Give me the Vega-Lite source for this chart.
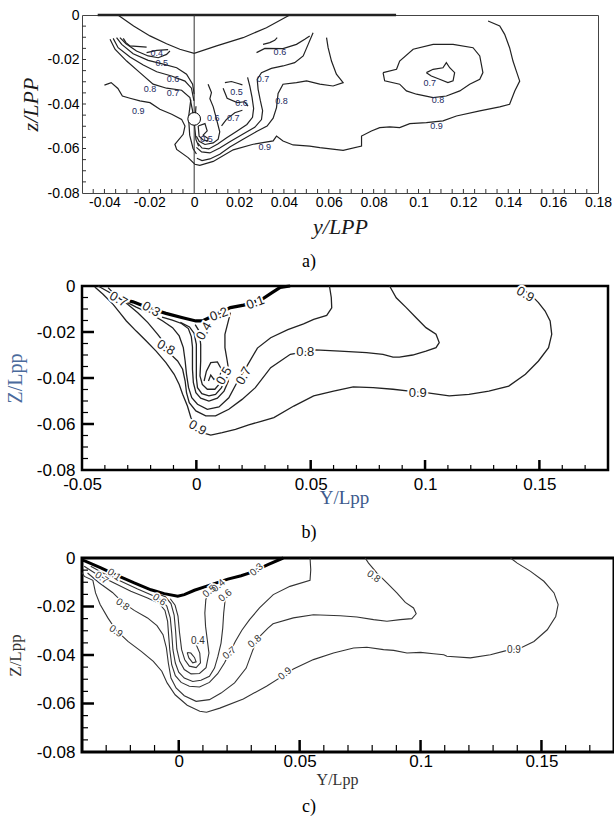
{
"$schema":"https://vega.github.io/schema/vega-lite/v6.json",
"background":"white",
"padding":{"top":7,"left":4,"right":0,"bottom":0},
"spacing":3,
"config":{
 "axis":{"grid":false,"domain":false,"ticks":false,"tickSize":0,"labelFont":"Liberation Sans","labelColor":"black","labelOverlap":false,"labelFlush":false,"titleFontWeight":"normal","titleFont":"Liberation Serif"},
 "title":{"font":"Liberation Serif","fontWeight":"normal","fontSize":18,"color":"black","orient":"bottom","anchor":"middle","frame":"group"}
},
"datasets":{
"linesA":[
{"c":"h","y":-0.034,"z":0},{"c":"h","y":-0.027,"z":-0.0049},{"c":"h","y":-0.0197,"z":-0.0094},{"c":"h","y":-0.0123,"z":-0.0129},{"c":"h","y":-0.0064,"z":-0.0154},{"c":"h","y":0,"z":-0.0172},{"c":"h","y":0.01,"z":-0.0139},{"c":"h","y":0.0218,"z":-0.0102},{"c":"h","y":0.0322,"z":-0.0057},{"c":"h","y":0.0426,"z":0},
{"c":"a9","y":-0.04,"z":-0.0315},{"c":"a9","y":-0.037,"z":-0.0304},{"c":"a9","y":-0.034,"z":-0.033},{"c":"a9","y":-0.032,"z":-0.0364},{"c":"a9","y":-0.0286,"z":-0.0374},{"c":"a9","y":-0.0242,"z":-0.0386},{"c":"a9","y":-0.0197,"z":-0.0394},{"c":"a9","y":-0.0153,"z":-0.0424},{"c":"a9","y":-0.01,"z":-0.0446},{"c":"a9","y":-0.0056,"z":-0.0469},{"c":"a9","y":-0.0041,"z":-0.0499},{"c":"a9","y":-0.0049,"z":-0.0536},{"c":"a9","y":-0.0086,"z":-0.0581},{"c":"a9","y":-0.0078,"z":-0.0604},{"c":"a9","y":-0.0027,"z":-0.0641},{"c":"a9","y":0.0003,"z":-0.0671},{"c":"a9","y":0.0025,"z":-0.0676},{"c":"a9","y":0.0085,"z":-0.0658},{"c":"a9","y":0.0174,"z":-0.0606},{"c":"a9","y":0.0263,"z":-0.0581},{"c":"a9","y":0.0352,"z":-0.0566},{"c":"a9","y":0.0367,"z":-0.0544},{"c":"a9","y":0.0396,"z":-0.0566},{"c":"a9","y":0.0441,"z":-0.0584},{"c":"a9","y":0.0515,"z":-0.0589},{"c":"a9","y":0.056,"z":-0.0596},{"c":"a9","y":0.0664,"z":-0.0608},{"c":"a9","y":0.0746,"z":-0.0589},{"c":"a9","y":0.0746,"z":-0.0544},{"c":"a9","y":0.079,"z":-0.0521},{"c":"a9","y":0.0827,"z":-0.0506},{"c":"a9","y":0.0872,"z":-0.0503},{"c":"a9","y":0.0916,"z":-0.0506},{"c":"a9","y":0.0961,"z":-0.0488},{"c":"a9","y":0.1035,"z":-0.0484},{"c":"a9","y":0.1109,"z":-0.0476},{"c":"a9","y":0.1169,"z":-0.0454},{"c":"a9","y":0.1273,"z":-0.0431},{"c":"a9","y":0.1362,"z":-0.0413},{"c":"a9","y":0.1406,"z":-0.0401},{"c":"a9","y":0.1429,"z":-0.0342},{"c":"a9","y":0.1451,"z":-0.0297},{"c":"a9","y":0.1436,"z":-0.0252},{"c":"a9","y":0.1421,"z":-0.0207},{"c":"a9","y":0.1406,"z":-0.0147},{"c":"a9","y":0.1384,"z":-0.0087},{"c":"a9","y":0.1362,"z":-0.0049},{"c":"a9","y":0.131,"z":-0.0027},
{"c":"r8","y":0.059,"z":-0.0102},{"c":"r8","y":0.0597,"z":-0.0147},{"c":"r8","y":0.0612,"z":-0.0207},{"c":"r8","y":0.0634,"z":-0.0266},{"c":"r8","y":0.0664,"z":-0.0304},{"c":"r8","y":0.0619,"z":-0.0319},{"c":"r8","y":0.056,"z":-0.0311},{"c":"r8","y":0.0501,"z":-0.0296},{"c":"r8","y":0.0456,"z":-0.0304},{"c":"r8","y":0.0396,"z":-0.0311},{"c":"r8","y":0.0374,"z":-0.0353},{"c":"r8","y":0.0367,"z":-0.0416},{"c":"r8","y":0.0352,"z":-0.0464},{"c":"r8","y":0.0325,"z":-0.0499},{"c":"r8","y":0.0278,"z":-0.0524},{"c":"r8","y":0.0218,"z":-0.0558},{"c":"r8","y":0.0159,"z":-0.0593},{"c":"r8","y":0.0114,"z":-0.0626},{"c":"r8","y":0.007,"z":-0.0647},{"c":"r8","y":0.0035,"z":-0.0654},{"c":"r8","y":0.0012,"z":-0.0644},
{"c":"r7","y":0.001,"z":-0.0595},{"c":"r7","y":0.0033,"z":-0.0615},{"c":"r7","y":0.007,"z":-0.062},{"c":"r7","y":0.0114,"z":-0.0598},{"c":"r7","y":0.0159,"z":-0.057},{"c":"r7","y":0.0218,"z":-0.0535},{"c":"r7","y":0.027,"z":-0.0505},{"c":"r7","y":0.03,"z":-0.047},{"c":"r7","y":0.0305,"z":-0.043},{"c":"r7","y":0.0295,"z":-0.0385},{"c":"r7","y":0.0285,"z":-0.0334},{"c":"r7","y":0.0281,"z":-0.0289},{"c":"r7","y":0.03,"z":-0.0259},{"c":"r7","y":0.0344,"z":-0.024},{"c":"r7","y":0.0396,"z":-0.0229},{"c":"r7","y":0.0448,"z":-0.0214},{"c":"r7","y":0.0486,"z":-0.0184},{"c":"r7","y":0.0508,"z":-0.0132},{"c":"r7","y":0.053,"z":-0.008},
{"c":"u7","y":0.0015,"z":-0.0575},{"c":"u7","y":0.0035,"z":-0.0598},{"c":"u7","y":0.0065,"z":-0.0602},{"c":"u7","y":0.0105,"z":-0.058},{"c":"u7","y":0.0145,"z":-0.0552},{"c":"u7","y":0.019,"z":-0.0522},{"c":"u7","y":0.0235,"z":-0.0492},{"c":"u7","y":0.026,"z":-0.046},{"c":"u7","y":0.0265,"z":-0.042},{"c":"u7","y":0.0258,"z":-0.037},{"c":"u7","y":0.0248,"z":-0.032},{"c":"u7","y":0.0238,"z":-0.028},
{"c":"u6","y":0.0062,"z":-0.0311},{"c":"u6","y":0.0077,"z":-0.0349},{"c":"u6","y":0.007,"z":-0.0376},{"c":"u6","y":0.0085,"z":-0.0413},{"c":"u6","y":0.0099,"z":-0.0466},{"c":"u6","y":0.0114,"z":-0.0525},{"c":"u6","y":0.0107,"z":-0.0558},{"c":"u6","y":0.0085,"z":-0.0575},{"c":"u6","y":0.0048,"z":-0.0582},{"c":"u6","y":0.0022,"z":-0.0568},{"c":"u6","y":0.001,"z":-0.0545},
{"c":"u5","y":0.0018,"z":-0.0499},{"c":"u5","y":0.0048,"z":-0.0488},{"c":"u5","y":0.0058,"z":-0.0521},{"c":"u5","y":0.004,"z":-0.054},{"c":"u5","y":0.0062,"z":-0.0555},{"c":"u5","y":0.006,"z":-0.0566},{"c":"u5","y":0.004,"z":-0.0562},{"c":"u5","y":0.0022,"z":-0.0545},{"c":"u5","y":0.0018,"z":-0.0499},
{"c":"g1","y":0.0137,"z":-0.0304},{"c":"g1","y":0.0166,"z":-0.0299},{"c":"g1","y":0.0196,"z":-0.0308},{"c":"g1","y":0.0215,"z":-0.0314},
{"c":"g2","y":0.0129,"z":-0.0329},{"c":"g2","y":0.0147,"z":-0.0374},{"c":"g2","y":0.0192,"z":-0.0394},{"c":"g2","y":0.0225,"z":-0.039},{"c":"g2","y":0.024,"z":-0.041},
{"c":"g3","y":0.0122,"z":-0.0498},{"c":"g3","y":0.0144,"z":-0.0469},{"c":"g3","y":0.0181,"z":-0.0439},{"c":"g3","y":0.0215,"z":-0.0428},
{"c":"r6","y":0.0278,"z":-0.0169},{"c":"r6","y":0.0315,"z":-0.015},{"c":"r6","y":0.0396,"z":-0.0151},{"c":"r6","y":0.0456,"z":-0.0132},{"c":"r6","y":0.0493,"z":-0.0109},{"c":"r6","y":0.0515,"z":-0.0094},
{"c":"ar","y":0.0307,"z":-0.0132},{"c":"ar","y":0.0337,"z":-0.0124},{"c":"ar","y":0.0359,"z":-0.0114},{"c":"ar","y":0.037,"z":-0.0102},
{"c":"l8","y":-0.0375,"z":-0.0109},{"c":"l8","y":-0.0353,"z":-0.0154},{"c":"l8","y":-0.0301,"z":-0.0207},{"c":"l8","y":-0.0242,"z":-0.0259},{"c":"l8","y":-0.0183,"z":-0.0311},{"c":"l8","y":-0.0123,"z":-0.0329},{"c":"l8","y":-0.0056,"z":-0.0338},{"c":"l8","y":-0.0019,"z":-0.0371},{"c":"l8","y":-0.0007,"z":-0.0431},{"c":"l8","y":-0.0004,"z":-0.0476},
{"c":"l7","y":-0.0361,"z":-0.0105},{"c":"l7","y":-0.0339,"z":-0.0147},{"c":"l7","y":-0.0286,"z":-0.0189},{"c":"l7","y":-0.0227,"z":-0.0225},{"c":"l7","y":-0.0167,"z":-0.0255},{"c":"l7","y":-0.0101,"z":-0.0274},{"c":"l7","y":-0.0041,"z":-0.0297},{"c":"l7","y":-0.0012,"z":-0.0329},{"c":"l7","y":-0.0001,"z":-0.0386},
{"c":"l6","y":-0.0346,"z":-0.0102},{"c":"l6","y":-0.0323,"z":-0.0132},{"c":"l6","y":-0.0272,"z":-0.0174},{"c":"l6","y":-0.0205,"z":-0.0204},{"c":"l6","y":-0.0138,"z":-0.0221},{"c":"l6","y":-0.0078,"z":-0.0237},{"c":"l6","y":-0.0034,"z":-0.0266},{"c":"l6","y":-0.0007,"z":-0.0311},{"c":"l6","y":0,"z":-0.0356},
{"c":"l5","y":-0.0331,"z":-0.0102},{"c":"l5","y":-0.0304,"z":-0.0129},{"c":"l5","y":-0.0257,"z":-0.0162},{"c":"l5","y":-0.0205,"z":-0.0184},{"c":"l5","y":-0.016,"z":-0.0192},{"c":"l5","y":-0.0123,"z":-0.0177},{"c":"l5","y":-0.0108,"z":-0.0162},
{"c":"l4a","y":-0.0316,"z":-0.0105},{"c":"l4a","y":-0.0304,"z":-0.0124},{"c":"l4a","y":-0.0286,"z":-0.0139},{"c":"l4a","y":-0.0212,"z":-0.0144},
{"c":"l4b","y":-0.0212,"z":-0.0169},{"c":"l4b","y":-0.0167,"z":-0.0159},{"c":"l4b","y":-0.0116,"z":-0.0156},
{"c":"v1","y":-0.0015,"z":-0.038},{"c":"v1","y":-0.0025,"z":-0.046},{"c":"v1","y":-0.002,"z":-0.054},{"c":"v1","y":-0.0005,"z":-0.06},{"c":"v1","y":0.001,"z":-0.0625},
{"c":"v2","y":0.0008,"z":-0.041},{"c":"v2","y":0.0002,"z":-0.05},{"c":"v2","y":0.0008,"z":-0.056},{"c":"v2","y":0.002,"z":-0.059},
{"c":"o8","y":0.0842,"z":-0.0259},{"c":"o8","y":0.0902,"z":-0.0244},{"c":"o8","y":0.0916,"z":-0.0207},{"c":"o8","y":0.0976,"z":-0.0154},{"c":"o8","y":0.1065,"z":-0.0132},{"c":"o8","y":0.1154,"z":-0.0132},{"c":"o8","y":0.1243,"z":-0.0147},{"c":"o8","y":0.1273,"z":-0.0184},{"c":"o8","y":0.1287,"z":-0.0259},{"c":"o8","y":0.1273,"z":-0.0289},{"c":"o8","y":0.1228,"z":-0.0311},{"c":"o8","y":0.1184,"z":-0.0341},{"c":"o8","y":0.1124,"z":-0.0364},{"c":"o8","y":0.1065,"z":-0.0371},{"c":"o8","y":0.0991,"z":-0.0356},{"c":"o8","y":0.0946,"z":-0.0341},{"c":"o8","y":0.0916,"z":-0.0311},{"c":"o8","y":0.0849,"z":-0.0296},{"c":"o8","y":0.0842,"z":-0.0259},
{"c":"o7","y":0.1035,"z":-0.0259},{"c":"o7","y":0.1065,"z":-0.0244},{"c":"o7","y":0.1109,"z":-0.0237},{"c":"o7","y":0.1124,"z":-0.0214},{"c":"o7","y":0.1139,"z":-0.0237},{"c":"o7","y":0.1161,"z":-0.0259},{"c":"o7","y":0.1154,"z":-0.0296},{"c":"o7","y":0.1131,"z":-0.0304},{"c":"o7","y":0.1094,"z":-0.0289},{"c":"o7","y":0.1057,"z":-0.0274},{"c":"o7","y":0.1035,"z":-0.0259}
],
"topA":[{"y":-0.043,"z":0},{"y":0.09,"z":0}],
"ruleA":[{"y":0,"z":0,"z2":-0.08}],
"circA":[{"y":0,"z":-0.0467}],
"labA":[
{"t":"0.4","y":-0.0167,"z":-0.0172},{"t":"0.5","y":-0.0145,"z":-0.0214},{"t":"0.6","y":-0.0094,"z":-0.0286},{"t":"0.8","y":-0.0197,"z":-0.0334},{"t":"0.7","y":-0.0094,"z":-0.0349},{"t":"0.9","y":-0.0249,"z":-0.0431},{"t":"0.6","y":0.0085,"z":-0.0461},{"t":"0.7","y":0.0174,"z":-0.0461},{"t":"0.6","y":0.0211,"z":-0.0394},{"t":"0.5","y":0.0189,"z":-0.0344},{"t":"0.9","y":0.0315,"z":-0.0592},{"t":"0.8","y":0.0389,"z":-0.0386},{"t":"0.7","y":0.0307,"z":-0.0289},{"t":"0.6","y":0.0382,"z":-0.0165},{"t":"0.5","y":0.0055,"z":-0.0559},{"t":"0.7","y":0.105,"z":-0.0304},{"t":"0.8","y":0.1087,"z":-0.0383},{"t":"0.9","y":0.108,"z":-0.0499}
],
"tkAx":[{"y":-0.045,"z":-0.08},{"y":-0.04,"z":-0.08},{"y":-0.035,"z":-0.08},{"y":-0.03,"z":-0.08},{"y":-0.025,"z":-0.08},{"y":-0.02,"z":-0.08},{"y":-0.015,"z":-0.08},{"y":-0.01,"z":-0.08},{"y":-0.005,"z":-0.08},{"y":0.005,"z":-0.08},{"y":0.01,"z":-0.08},{"y":0.015,"z":-0.08},{"y":0.02,"z":-0.08},{"y":0.025,"z":-0.08},{"y":0.03,"z":-0.08},{"y":0.035,"z":-0.08},{"y":0.04,"z":-0.08},{"y":0.045,"z":-0.08},{"y":0.05,"z":-0.08},{"y":0.055,"z":-0.08},{"y":0.06,"z":-0.08},{"y":0.065,"z":-0.08},{"y":0.07,"z":-0.08},{"y":0.075,"z":-0.08},{"y":0.08,"z":-0.08},{"y":0.085,"z":-0.08},{"y":0.09,"z":-0.08},{"y":0.095,"z":-0.08},{"y":0.1,"z":-0.08},{"y":0.105,"z":-0.08},{"y":0.11,"z":-0.08},{"y":0.115,"z":-0.08},{"y":0.12,"z":-0.08},{"y":0.125,"z":-0.08},{"y":0.13,"z":-0.08},{"y":0.135,"z":-0.08},{"y":0.14,"z":-0.08},{"y":0.145,"z":-0.08},{"y":0.15,"z":-0.08},{"y":0.155,"z":-0.08},{"y":0.16,"z":-0.08},{"y":0.165,"z":-0.08},{"y":0.17,"z":-0.08},{"y":0.175,"z":-0.08}],
"tkAy":[{"y":-0.05,"z":-0.005},{"y":-0.05,"z":-0.01},{"y":-0.05,"z":-0.015},{"y":-0.05,"z":-0.02},{"y":-0.05,"z":-0.025},{"y":-0.05,"z":-0.03},{"y":-0.05,"z":-0.035},{"y":-0.05,"z":-0.04},{"y":-0.05,"z":-0.045},{"y":-0.05,"z":-0.05},{"y":-0.05,"z":-0.055},{"y":-0.05,"z":-0.06},{"y":-0.05,"z":-0.065},{"y":-0.05,"z":-0.07},{"y":-0.05,"z":-0.075}],
"linesB":[
{"c":"b9","y":-0.0444,"z":-0.0004},{"c":"b9","y":-0.0408,"z":-0.0036},{"c":"b9","y":-0.0364,"z":-0.008},{"c":"b9","y":-0.0335,"z":-0.0116},{"c":"b9","y":-0.0306,"z":-0.0152},{"c":"b9","y":-0.0263,"z":-0.0196},{"c":"b9","y":-0.0219,"z":-0.0239},{"c":"b9","y":-0.0176,"z":-0.0283},{"c":"b9","y":-0.0133,"z":-0.0333},{"c":"b9","y":-0.0097,"z":-0.0384},{"c":"b9","y":-0.0075,"z":-0.0428},{"c":"b9","y":-0.006,"z":-0.0471},{"c":"b9","y":-0.0039,"z":-0.0522},{"c":"b9","y":-0.0024,"z":-0.0572},{"c":"b9","y":-0.0002,"z":-0.0616},{"c":"b9","y":0.0026,"z":-0.0638},{"c":"b9","y":0.0063,"z":-0.0648},{"c":"b9","y":0.0113,"z":-0.0638},{"c":"b9","y":0.0171,"z":-0.0623},{"c":"b9","y":0.0229,"z":-0.0604},{"c":"b9","y":0.0287,"z":-0.0587},{"c":"b9","y":0.0339,"z":-0.0572},{"c":"b9","y":0.0426,"z":-0.0522},{"c":"b9","y":0.0513,"z":-0.0478},{"c":"b9","y":0.06,"z":-0.0457},{"c":"b9","y":0.0686,"z":-0.0439},{"c":"b9","y":0.0773,"z":-0.0442},{"c":"b9","y":0.086,"z":-0.0449},{"c":"b9","y":0.0932,"z":-0.0457},{"c":"b9","y":0.1004,"z":-0.0464},{"c":"b9","y":0.1106,"z":-0.0478},{"c":"b9","y":0.1192,"z":-0.0471},{"c":"b9","y":0.1279,"z":-0.0457},{"c":"b9","y":0.1366,"z":-0.0435},{"c":"b9","y":0.1439,"z":-0.0384},{"c":"b9","y":0.1496,"z":-0.0326},{"c":"b9","y":0.154,"z":-0.0268},{"c":"b9","y":0.1554,"z":-0.021},{"c":"b9","y":0.1547,"z":-0.0152},{"c":"b9","y":0.1525,"z":-0.0109},{"c":"b9","y":0.1496,"z":-0.0072},{"c":"b9","y":0.1467,"z":-0.0043},{"c":"b9","y":0.141,"z":0},
{"c":"b8","y":-0.0386,"z":-0.0007},{"c":"b8","y":-0.035,"z":-0.0043},{"c":"b8","y":-0.0299,"z":-0.008},{"c":"b8","y":-0.0256,"z":-0.0116},{"c":"b8","y":-0.0212,"z":-0.0159},{"c":"b8","y":-0.0169,"z":-0.021},{"c":"b8","y":-0.0147,"z":-0.0239},{"c":"b8","y":-0.0115,"z":-0.0294},{"c":"b8","y":-0.0082,"z":-0.0326},{"c":"b8","y":-0.006,"z":-0.0362},{"c":"b8","y":-0.0049,"z":-0.0413},{"c":"b8","y":-0.0043,"z":-0.0464},{"c":"b8","y":-0.0031,"z":-0.0507},{"c":"b8","y":-0.0002,"z":-0.0543},{"c":"b8","y":0.0041,"z":-0.0565},{"c":"b8","y":0.0084,"z":-0.0565},{"c":"b8","y":0.0142,"z":-0.0536},{"c":"b8","y":0.02,"z":-0.0493},{"c":"b8","y":0.0258,"z":-0.0442},{"c":"b8","y":0.0325,"z":-0.0355},{"c":"b8","y":0.0411,"z":-0.0297},{"c":"b8","y":0.052,"z":-0.0278},{"c":"b8","y":0.0628,"z":-0.0283},{"c":"b8","y":0.0744,"z":-0.029},{"c":"b8","y":0.0816,"z":-0.0297},{"c":"b8","y":0.086,"z":-0.0309},{"c":"b8","y":0.0888,"z":-0.0309},{"c":"b8","y":0.0946,"z":-0.03},{"c":"b8","y":0.1004,"z":-0.0283},{"c":"b8","y":0.1048,"z":-0.0268},{"c":"b8","y":0.1062,"z":-0.0246},{"c":"b8","y":0.1048,"z":-0.021},{"c":"b8","y":0.1004,"z":-0.0181},{"c":"b8","y":0.0961,"z":-0.0138},{"c":"b8","y":0.0918,"z":-0.0094},{"c":"b8","y":0.0874,"z":-0.0051},{"c":"b8","y":0.0845,"z":0},
{"c":"b7","y":-0.043,"z":0},{"c":"b7","y":-0.0385,"z":-0.0025},{"c":"b7","y":-0.0335,"z":-0.0055},{"c":"b7","y":-0.029,"z":-0.0078},{"c":"b7","y":-0.0263,"z":-0.0092},{"c":"b7","y":-0.0205,"z":-0.0118},{"c":"b7","y":-0.0147,"z":-0.0152},{"c":"b7","y":-0.0104,"z":-0.0181},{"c":"b7","y":-0.0075,"z":-0.0217},{"c":"b7","y":-0.0057,"z":-0.0268},{"c":"b7","y":-0.0049,"z":-0.0326},{"c":"b7","y":-0.0043,"z":-0.0384},{"c":"b7","y":-0.0034,"z":-0.0442},{"c":"b7","y":-0.002,"z":-0.0486},{"c":"b7","y":0.0005,"z":-0.0514},{"c":"b7","y":0.0048,"z":-0.0536},{"c":"b7","y":0.0099,"z":-0.0526},{"c":"b7","y":0.0142,"z":-0.0486},{"c":"b7","y":0.018,"z":-0.0415},{"c":"b7","y":0.0223,"z":-0.0345},{"c":"b7","y":0.0267,"z":-0.027},{"c":"b7","y":0.0325,"z":-0.0225},{"c":"b7","y":0.04,"z":-0.019},{"c":"b7","y":0.0469,"z":-0.0165},{"c":"b7","y":0.0513,"z":-0.0145},{"c":"b7","y":0.057,"z":-0.0128},{"c":"b7","y":0.0592,"z":-0.0095},{"c":"b7","y":0.059,"z":-0.005},{"c":"b7","y":0.0582,"z":0},
{"c":"b6","y":-0.015,"z":-0.0135},{"c":"b6","y":-0.0105,"z":-0.0148},{"c":"b6","y":-0.0065,"z":-0.0163},{"c":"b6","y":-0.0035,"z":-0.0185},{"c":"b6","y":-0.0022,"z":-0.022},{"c":"b6","y":-0.0017,"z":-0.0265},{"c":"b6","y":-0.0017,"z":-0.0305},{"c":"b6","y":-0.0017,"z":-0.0362},{"c":"b6","y":-0.0013,"z":-0.042},{"c":"b6","y":-0.0002,"z":-0.0464},{"c":"b6","y":0.0019,"z":-0.0488},{"c":"b6","y":0.0055,"z":-0.05},{"c":"b6","y":0.0092,"z":-0.0488},{"c":"b6","y":0.0121,"z":-0.0457},{"c":"b6","y":0.014,"z":-0.0413},{"c":"b6","y":0.0142,"z":-0.037},{"c":"b6","y":0.0135,"z":-0.0326},{"c":"b6","y":0.0125,"z":-0.0268},{"c":"b6","y":0.0125,"z":-0.021},{"c":"b6","y":0.014,"z":-0.0152},{"c":"b6","y":0.0149,"z":-0.0116},
{"c":"b5","y":-0.007,"z":-0.0158},{"c":"b5","y":-0.003,"z":-0.0178},{"c":"b5","y":-0.001,"z":-0.0205},{"c":"b5","y":0,"z":-0.0254},{"c":"b5","y":0,"z":-0.0326},{"c":"b5","y":0,"z":-0.0399},{"c":"b5","y":0.0005,"z":-0.0442},{"c":"b5","y":0.0024,"z":-0.0468},{"c":"b5","y":0.0055,"z":-0.0478},{"c":"b5","y":0.0084,"z":-0.0471},{"c":"b5","y":0.011,"z":-0.0442},{"c":"b5","y":0.0121,"z":-0.0413},
{"c":"b4","y":-0.0005,"z":-0.0168},{"c":"b4","y":0.0012,"z":-0.0196},{"c":"b4","y":0.0019,"z":-0.0254},{"c":"b4","y":0.0019,"z":-0.0326},{"c":"b4","y":0.0016,"z":-0.0391},{"c":"b4","y":0.0026,"z":-0.0428},{"c":"b4","y":0.0048,"z":-0.0449},{"c":"b4","y":0.0081,"z":-0.0449},{"c":"b4","y":0.0099,"z":-0.0428},
{"c":"bl","y":0.0034,"z":-0.0413},{"c":"bl","y":0.0044,"z":-0.037},{"c":"bl","y":0.0063,"z":-0.0333},{"c":"bl","y":0.0092,"z":-0.033},{"c":"bl","y":0.011,"z":-0.0362},{"c":"bl","y":0.0102,"z":-0.0396},{"c":"bl","y":0.0077,"z":-0.0406},{"c":"bl","y":0.0063,"z":-0.0387},{"c":"bl","y":0.0053,"z":-0.0413}
],
"hullB":[{"y":-0.0292,"z":-0.0065},{"y":-0.0277,"z":-0.0069},{"y":-0.0205,"z":-0.0097},{"y":-0.0133,"z":-0.0119},{"y":-0.006,"z":-0.0138},{"y":-0.0002,"z":-0.0152},{"y":0.0026,"z":-0.0152},{"y":0.0063,"z":-0.0135},{"y":0.0149,"z":-0.0094},{"y":0.0207,"z":-0.0083},{"y":0.0287,"z":-0.0058},{"y":0.0331,"z":-0.0029},{"y":0.0367,"z":-0.0006},{"y":0.041,"z":0}],
"labB30":[{"t":"0.7","y":-0.0341,"z":-0.0058},{"t":"0.3","y":-0.0198,"z":-0.0101},{"t":"0.8","y":-0.0133,"z":-0.0268},{"t":"0.9","y":0.0005,"z":-0.0616},{"t":"0.9","y":0.1438,"z":-0.0036}],
"labBm20":[{"t":"0.2","y":0.0099,"z":-0.0123},{"t":"0.1","y":0.0258,"z":-0.0072}],
"labBm60":[{"t":"0.4","y":0.0034,"z":-0.0196},{"t":"0.5","y":0.0121,"z":-0.0391},{"t":"0.7","y":0.0207,"z":-0.0391}],
"labB0":[{"t":"0.8","y":0.0476,"z":-0.0287},{"t":"0.9","y":0.0968,"z":-0.0464}],
"tkBxM":[{"y":0,"z":-0.08},{"y":0.05,"z":-0.08},{"y":0.1,"z":-0.08},{"y":0.15,"z":-0.08}],
"tkBxm":[{"y":-0.04,"z":-0.08},{"y":-0.03,"z":-0.08},{"y":-0.02,"z":-0.08},{"y":-0.01,"z":-0.08},{"y":0.01,"z":-0.08},{"y":0.02,"z":-0.08},{"y":0.03,"z":-0.08},{"y":0.04,"z":-0.08},{"y":0.06,"z":-0.08},{"y":0.07,"z":-0.08},{"y":0.08,"z":-0.08},{"y":0.09,"z":-0.08},{"y":0.11,"z":-0.08},{"y":0.12,"z":-0.08},{"y":0.13,"z":-0.08},{"y":0.14,"z":-0.08},{"y":0.16,"z":-0.08},{"y":0.17,"z":-0.08}],
"tkByM":[{"y":-0.05,"z":-0.02},{"y":-0.05,"z":-0.04},{"y":-0.05,"z":-0.06}],
"tkBym":[{"y":-0.05,"z":-0.005},{"y":-0.05,"z":-0.01},{"y":-0.05,"z":-0.015},{"y":-0.05,"z":-0.025},{"y":-0.05,"z":-0.03},{"y":-0.05,"z":-0.035},{"y":-0.05,"z":-0.045},{"y":-0.05,"z":-0.05},{"y":-0.05,"z":-0.055},{"y":-0.05,"z":-0.065},{"y":-0.05,"z":-0.07},{"y":-0.05,"z":-0.075}],
"linesC":[
{"c":"c9","y":-0.04,"z":-0.006},{"c":"c9","y":-0.039,"z":-0.0076},{"c":"c9","y":-0.0355,"z":-0.0092},{"c":"c9","y":-0.0344,"z":-0.0144},{"c":"c9","y":-0.0325,"z":-0.0192},{"c":"c9","y":-0.0293,"z":-0.0247},{"c":"c9","y":-0.0259,"z":-0.0298},{"c":"c9","y":-0.021,"z":-0.0344},{"c":"c9","y":-0.0155,"z":-0.0385},{"c":"c9","y":-0.0105,"z":-0.0426},{"c":"c9","y":-0.007,"z":-0.0467},{"c":"c9","y":-0.0048,"z":-0.0515},{"c":"c9","y":-0.0015,"z":-0.0564},{"c":"c9","y":0.0035,"z":-0.0607},{"c":"c9","y":0.0087,"z":-0.0632},{"c":"c9","y":0.0115,"z":-0.0636},{"c":"c9","y":0.017,"z":-0.0619},{"c":"c9","y":0.0267,"z":-0.0581},{"c":"c9","y":0.0363,"z":-0.0529},{"c":"c9","y":0.0439,"z":-0.0481},{"c":"c9","y":0.0474,"z":-0.0458},{"c":"c9","y":0.0557,"z":-0.0419},{"c":"c9","y":0.064,"z":-0.0392},{"c":"c9","y":0.0723,"z":-0.0371},{"c":"c9","y":0.0778,"z":-0.0368},{"c":"c9","y":0.0847,"z":-0.0378},{"c":"c9","y":0.0889,"z":-0.0381},{"c":"c9","y":0.0944,"z":-0.0392},{"c":"c9","y":0.1,"z":-0.0389},{"c":"c9","y":0.1054,"z":-0.0395},{"c":"c9","y":0.1096,"z":-0.0399},{"c":"c9","y":0.1109,"z":-0.0405},{"c":"c9","y":0.1206,"z":-0.0412},{"c":"c9","y":0.1289,"z":-0.0399},{"c":"c9","y":0.1358,"z":-0.0381},{"c":"c9","y":0.1414,"z":-0.0371},{"c":"c9","y":0.1469,"z":-0.0344},{"c":"c9","y":0.1524,"z":-0.0296},{"c":"c9","y":0.1559,"z":-0.0241},{"c":"c9","y":0.1569,"z":-0.0192},{"c":"c9","y":0.1552,"z":-0.0144},{"c":"c9","y":0.151,"z":-0.0096},{"c":"c9","y":0.1455,"z":-0.0055},{"c":"c9","y":0.14,"z":-0.0021},{"c":"c9","y":0.1372,"z":0},
{"c":"c8","y":-0.0377,"z":-0.0062},{"c":"c8","y":-0.0328,"z":-0.0103},{"c":"c8","y":-0.0274,"z":-0.0142},{"c":"c8","y":-0.0232,"z":-0.0183},{"c":"c8","y":-0.0184,"z":-0.0216},{"c":"c8","y":-0.0129,"z":-0.0247},{"c":"c8","y":-0.009,"z":-0.0279},{"c":"c8","y":-0.0065,"z":-0.0316},{"c":"c8","y":-0.0051,"z":-0.0371},{"c":"c8","y":-0.0043,"z":-0.0433},{"c":"c8","y":-0.0032,"z":-0.0495},{"c":"c8","y":-0.0011,"z":-0.0536},{"c":"c8","y":0.0023,"z":-0.0568},{"c":"c8","y":0.0072,"z":-0.0591},{"c":"c8","y":0.0127,"z":-0.0584},{"c":"c8","y":0.0175,"z":-0.0557},{"c":"c8","y":0.0231,"z":-0.0515},{"c":"c8","y":0.0279,"z":-0.0454},{"c":"c8","y":0.0307,"z":-0.0378},{"c":"c8","y":0.0328,"z":-0.033},{"c":"c8","y":0.0369,"z":-0.0289},{"c":"c8","y":0.039,"z":-0.0271},{"c":"c8","y":0.0474,"z":-0.0247},{"c":"c8","y":0.0557,"z":-0.0234},{"c":"c8","y":0.0668,"z":-0.0238},{"c":"c8","y":0.0737,"z":-0.0243},{"c":"c8","y":0.0806,"z":-0.0254},{"c":"c8","y":0.0861,"z":-0.0261},{"c":"c8","y":0.0916,"z":-0.0254},{"c":"c8","y":0.0964,"z":-0.025},{"c":"c8","y":0.0982,"z":-0.023},{"c":"c8","y":0.0971,"z":-0.0206},{"c":"c8","y":0.0937,"z":-0.0183},{"c":"c8","y":0.0902,"z":-0.0144},{"c":"c8","y":0.0861,"z":-0.0103},{"c":"c8","y":0.082,"z":-0.0062},{"c":"c8","y":0.0785,"z":-0.0021},{"c":"c8","y":0.0771,"z":0},
{"c":"c7","y":-0.0391,"z":-0.0034},{"c":"c7","y":-0.0336,"z":-0.0069},{"c":"c7","y":-0.0267,"z":-0.0103},{"c":"c7","y":-0.0198,"z":-0.0137},{"c":"c7","y":-0.0129,"z":-0.0165},{"c":"c7","y":-0.008,"z":-0.0188},{"c":"c7","y":-0.0057,"z":-0.0216},{"c":"c7","y":-0.0046,"z":-0.0261},{"c":"c7","y":-0.0042,"z":-0.0316},{"c":"c7","y":-0.0037,"z":-0.0378},{"c":"c7","y":-0.0029,"z":-0.044},{"c":"c7","y":-0.0014,"z":-0.0485},{"c":"c7","y":0.001,"z":-0.0513},{"c":"c7","y":0.0044,"z":-0.0529},{"c":"c7","y":0.0086,"z":-0.0532},{"c":"c7","y":0.0127,"z":-0.0513},{"c":"c7","y":0.0161,"z":-0.0477},{"c":"c7","y":0.0189,"z":-0.0433},{"c":"c7","y":0.021,"z":-0.0392},{"c":"c7","y":0.0234,"z":-0.0344},{"c":"c7","y":0.0261,"z":-0.0298},{"c":"c7","y":0.0293,"z":-0.0254},{"c":"c7","y":0.0334,"z":-0.0206},{"c":"c7","y":0.0391,"z":-0.0151},{"c":"c7","y":0.046,"z":-0.0117},{"c":"c7","y":0.0543,"z":-0.0092},{"c":"c7","y":0.0546,"z":-0.0048},{"c":"c7","y":0.0543,"z":0},
{"c":"c6","y":-0.0364,"z":-0.0034},{"c":"c6","y":-0.0308,"z":-0.0065},{"c":"c6","y":-0.0239,"z":-0.0096},{"c":"c6","y":-0.017,"z":-0.0128},{"c":"c6","y":-0.0108,"z":-0.0155},{"c":"c6","y":-0.0073,"z":-0.0172},{"c":"c6","y":-0.0049,"z":-0.0199},{"c":"c6","y":-0.0035,"z":-0.0247},{"c":"c6","y":-0.0029,"z":-0.0309},{"c":"c6","y":-0.0024,"z":-0.0378},{"c":"c6","y":-0.0014,"z":-0.0433},{"c":"c6","y":0,"z":-0.0471},{"c":"c6","y":0.0023,"z":-0.0495},{"c":"c6","y":0.0058,"z":-0.0509},{"c":"c6","y":0.0092,"z":-0.0504},{"c":"c6","y":0.0127,"z":-0.0488},{"c":"c6","y":0.0148,"z":-0.0454},{"c":"c6","y":0.0162,"z":-0.0406},{"c":"c6","y":0.0175,"z":-0.0351},{"c":"c6","y":0.0182,"z":-0.0289},{"c":"c6","y":0.0186,"z":-0.0227},{"c":"c6","y":0.0192,"z":-0.0172},{"c":"c6","y":0.0203,"z":-0.0147},
{"c":"c5","y":-0.0085,"z":-0.0148},{"c":"c5","y":-0.0055,"z":-0.016},{"c":"c5","y":-0.0032,"z":-0.0188},{"c":"c5","y":-0.0019,"z":-0.0235},{"c":"c5","y":-0.0013,"z":-0.03},{"c":"c5","y":-0.0008,"z":-0.0375},{"c":"c5","y":0.0004,"z":-0.0426},{"c":"c5","y":0.0023,"z":-0.046},{"c":"c5","y":0.0051,"z":-0.0478},{"c":"c5","y":0.0086,"z":-0.0476},{"c":"c5","y":0.0113,"z":-0.0452},{"c":"c5","y":0.0125,"z":-0.0392},{"c":"c5","y":0.0118,"z":-0.0337},{"c":"c5","y":0.0111,"z":-0.0282},{"c":"c5","y":0.0108,"z":-0.0227},{"c":"c5","y":0.0112,"z":-0.0172},{"c":"c5","y":0.0123,"z":-0.0142},
{"c":"c4","y":-0.0035,"z":-0.0168},{"c":"c4","y":-0.0015,"z":-0.0195},{"c":"c4","y":-0.0003,"z":-0.024},{"c":"c4","y":0.0003,"z":-0.0305},{"c":"c4","y":0.0012,"z":-0.0378},{"c":"c4","y":0.0025,"z":-0.042},{"c":"c4","y":0.0044,"z":-0.0446},{"c":"c4","y":0.0072,"z":-0.0452},{"c":"c4","y":0.009,"z":-0.0432},{"c":"c4","y":0.0087,"z":-0.0392},{"c":"c4","y":0.0072,"z":-0.0357},{"c":"c4","y":0.0054,"z":-0.034},
{"c":"ci","y":0.0035,"z":-0.039},{"c":"ci","y":0.0042,"z":-0.0412},{"c":"ci","y":0.0058,"z":-0.0432},{"c":"ci","y":0.0072,"z":-0.0428},{"c":"ci","y":0.0065,"z":-0.041},{"c":"ci","y":0.005,"z":-0.0392},{"c":"ci","y":0.0035,"z":-0.039}
],
"hullC":[{"y":-0.04,"z":-0.0008},{"y":-0.0384,"z":-0.0014},{"y":-0.0322,"z":-0.0041},{"y":-0.0253,"z":-0.0073},{"y":-0.0184,"z":-0.0103},{"y":-0.0115,"z":-0.0131},{"y":-0.006,"z":-0.0147},{"y":-0.0004,"z":-0.0158},{"y":0.0023,"z":-0.0151},{"y":0.0065,"z":-0.0133},{"y":0.0113,"z":-0.0117},{"y":0.0203,"z":-0.0087},{"y":0.0258,"z":-0.0073},{"y":0.03,"z":-0.0059},{"y":0.0369,"z":-0.0027},{"y":0.0432,"z":0}],
"labC35":[{"t":"0.7","y":-0.0319,"z":-0.0082},{"t":"0.1","y":-0.0267,"z":-0.0069},{"t":"0.6","y":-0.008,"z":-0.0172},{"t":"0.8","y":-0.0232,"z":-0.0192},{"t":"0.9","y":-0.026,"z":-0.0302},{"t":"0.8","y":0.0806,"z":-0.0076}],
"labCm40":[{"t":"0.5","y":0.0127,"z":-0.0137},{"t":"0.4","y":0.0164,"z":-0.0114},{"t":"0.6","y":0.0192,"z":-0.0155},{"t":"0.7","y":0.021,"z":-0.0392},{"t":"0.8","y":0.0314,"z":-0.0344},{"t":"0.9","y":0.0439,"z":-0.0477},{"t":"0.3","y":0.0322,"z":-0.0048}],
"labC0":[{"t":"0.4","y":0.0079,"z":-0.0344},{"t":"0.9","y":0.1386,"z":-0.0381}],
"tkCxm":[{"y":-0.03,"z":-0.08},{"y":-0.02,"z":-0.08},{"y":-0.01,"z":-0.08},{"y":0.01,"z":-0.08},{"y":0.02,"z":-0.08},{"y":0.03,"z":-0.08},{"y":0.04,"z":-0.08},{"y":0.06,"z":-0.08},{"y":0.07,"z":-0.08},{"y":0.08,"z":-0.08},{"y":0.09,"z":-0.08},{"y":0.11,"z":-0.08},{"y":0.12,"z":-0.08},{"y":0.13,"z":-0.08},{"y":0.14,"z":-0.08},{"y":0.16,"z":-0.08},{"y":0.17,"z":-0.08}],
"tkCyM":[{"y":-0.04,"z":-0.02},{"y":-0.04,"z":-0.04},{"y":-0.04,"z":-0.06}],
"tkCym":[{"y":-0.04,"z":-0.005},{"y":-0.04,"z":-0.01},{"y":-0.04,"z":-0.015},{"y":-0.04,"z":-0.025},{"y":-0.04,"z":-0.03},{"y":-0.04,"z":-0.035},{"y":-0.04,"z":-0.045},{"y":-0.04,"z":-0.05},{"y":-0.04,"z":-0.055},{"y":-0.04,"z":-0.065},{"y":-0.04,"z":-0.07},{"y":-0.04,"z":-0.075}]
},
"vconcat":[
{
 "width":516,"height":178,
 "view":{"stroke":"#444","strokeWidth":1},
 "title":{"text":"a)","dx":-31,"offset":16},
 "encoding":{
  "x":{"field":"y","type":"quantitative","scale":{"domain":[-0.05,0.18],"nice":false,"zero":false},
   "axis":{"values":[-0.04,-0.02,0,0.02,0.04,0.06,0.08,0.1,0.12,0.14,0.16,0.18],"labelExpr":"(datum.value<-0.0001 ? '-' : '') + format(abs(datum.value),'~g')",
    "labelFontSize":14,"labelPadding":2,
    "title":"y/LPP","titleFontStyle":"italic","titleFontSize":22,"titleColor":"#1a1a1a","titlePadding":7}},
  "y":{"field":"z","type":"quantitative","scale":{"domain":[-0.08,0],"nice":false,"zero":false},
   "axis":{"values":[0,-0.02,-0.04,-0.06,-0.08],"labelExpr":"(datum.value<-0.0001 ? '-' : '') + format(abs(datum.value),'~g')",
    "labelFontSize":14,"labelPadding":3,
    "title":"z/LPP","titleFontStyle":"italic","titleFontSize":22,"titleColor":"#1a1a1a","titlePadding":5}}
 },
 "layer":[
  {"data":{"name":"linesA"},"mark":{"type":"line","stroke":"#222","strokeWidth":1.2},"encoding":{"detail":{"field":"c"},"order":{"value":null}}},
  {"data":{"name":"topA"},"mark":{"type":"line","stroke":"#222","strokeWidth":2.5},"encoding":{"order":{"value":null}}},
  {"data":{"name":"ruleA"},"mark":{"type":"rule","stroke":"#333","strokeWidth":1},"encoding":{"y2":{"field":"z2"}}},
  {"data":{"name":"circA"},"mark":{"type":"point","shape":"circle","filled":true,"fill":"white","stroke":"black","strokeWidth":1,"size":160,"opacity":1}},
  {"data":{"name":"labA"},"mark":{"type":"text","font":"Liberation Sans","fontSize":9,"fill":"#1b2a5e"},"encoding":{"text":{"field":"t"}}},
  {"data":{"name":"tkAx"},"mark":{"type":"tick","orient":"vertical","size":4,"thickness":1,"color":"#333","opacity":1,"yOffset":-2}},
  {"data":{"name":"tkAy"},"mark":{"type":"tick","orient":"horizontal","size":4,"thickness":1,"color":"#333","opacity":1,"xOffset":2}}
 ]
},
{
 "width":526,"height":184,
 "view":{"stroke":"black","strokeWidth":2.5},
 "title":{"text":"b)","dx":-36,"offset":17},
 "encoding":{
  "x":{"field":"y","type":"quantitative","scale":{"domain":[-0.05,0.18],"nice":false,"zero":false},
   "axis":{"values":[-0.05,0,0.05,0.1,0.15],"labelExpr":"(datum.value<-0.0001 ? '-' : '') + format(abs(datum.value),'~g')",
    "labelFontSize":17,"labelPadding":6,
    "title":"Y/Lpp","titleFontSize":19,"titleColor":"#3d5a8c","titlePadding":-4,"titleX":262}},
  "y":{"field":"z","type":"quantitative","scale":{"domain":[-0.08,0],"nice":false,"zero":false},
   "axis":{"values":[0,-0.02,-0.04,-0.06,-0.08],"labelExpr":"(datum.value<-0.0001 ? '-' : '') + format(abs(datum.value),'~g')",
    "labelFontSize":17,"labelPadding":7,
    "title":"Z/Lpp","titleFontSize":20,"titleColor":"#4a6a9c","titlePadding":11}}
 },
 "layer":[
  {"data":{"name":"linesB"},"mark":{"type":"line","stroke":"#222","strokeWidth":1.3},"encoding":{"detail":{"field":"c"},"order":{"value":null}}},
  {"data":{"name":"hullB"},"mark":{"type":"line","stroke":"black","strokeWidth":3.2},"encoding":{"order":{"value":null}}},
  {"data":{"name":"labB30"},"encoding":{"text":{"field":"t"}},"layer":[
   {"mark":{"type":"text","angle":30,"font":"Liberation Sans","fontSize":13,"fill":"white","stroke":"white","strokeWidth":4}},
   {"mark":{"type":"text","angle":30,"font":"Liberation Sans","fontSize":13,"fill":"#222"}}]},
  {"data":{"name":"labBm20"},"encoding":{"text":{"field":"t"}},"layer":[
   {"mark":{"type":"text","angle":-20,"font":"Liberation Sans","fontSize":13,"fill":"white","stroke":"white","strokeWidth":4}},
   {"mark":{"type":"text","angle":-20,"font":"Liberation Sans","fontSize":13,"fill":"#222"}}]},
  {"data":{"name":"labBm60"},"encoding":{"text":{"field":"t"}},"layer":[
   {"mark":{"type":"text","angle":-60,"font":"Liberation Sans","fontSize":13,"fill":"white","stroke":"white","strokeWidth":4}},
   {"mark":{"type":"text","angle":-60,"font":"Liberation Sans","fontSize":13,"fill":"#222"}}]},
  {"data":{"name":"labB0"},"encoding":{"text":{"field":"t"}},"layer":[
   {"mark":{"type":"text","font":"Liberation Sans","fontSize":13,"fill":"white","stroke":"white","strokeWidth":4}},
   {"mark":{"type":"text","font":"Liberation Sans","fontSize":13,"fill":"#222"}}]},
  {"data":{"name":"tkBxM"},"mark":{"type":"tick","orient":"vertical","size":10,"thickness":2.5,"color":"black","opacity":1,"yOffset":-5}},
  {"data":{"name":"tkBxm"},"mark":{"type":"tick","orient":"vertical","size":5,"thickness":1.2,"color":"black","opacity":1,"yOffset":-2.5}},
  {"data":{"name":"tkByM"},"mark":{"type":"tick","orient":"horizontal","size":12,"thickness":2.5,"color":"black","opacity":1,"xOffset":6}},
  {"data":{"name":"tkBym"},"mark":{"type":"tick","orient":"horizontal","size":6,"thickness":1.2,"color":"black","opacity":1,"xOffset":3}}
 ]
},
{
 "width":532,"height":194,
 "view":{"stroke":"black","strokeWidth":3},
 "title":{"text":"c)","dx":-39,"offset":11},
 "encoding":{
  "x":{"field":"y","type":"quantitative","scale":{"domain":[-0.04,0.18],"nice":false,"zero":false},
   "axis":{"values":[0,0.05,0.1,0.15],"labelExpr":"(datum.value<-0.0001 ? '-' : '') + format(abs(datum.value),'~g')",
    "labelFontSize":17,"labelPadding":1,
    "title":"Y/Lpp","titleFontSize":16,"titleColor":"#333","titlePadding":2,"titleX":255}},
  "y":{"field":"z","type":"quantitative","scale":{"domain":[-0.08,0],"nice":false,"zero":false},
   "axis":{"values":[0,-0.02,-0.04,-0.06,-0.08],"labelExpr":"(datum.value<-0.0001 ? '-' : '') + format(abs(datum.value),'~g')",
    "labelFontSize":17,"labelPadding":7,
    "title":"Z/Lpp","titleFontSize":17,"titleColor":"#333","titlePadding":12}}
 },
 "layer":[
  {"data":{"name":"linesC"},"mark":{"type":"line","stroke":"#333","strokeWidth":1.1},"encoding":{"detail":{"field":"c"},"order":{"value":null}}},
  {"data":{"name":"hullC"},"mark":{"type":"line","stroke":"black","strokeWidth":3},"encoding":{"order":{"value":null}}},
  {"data":{"name":"labC35"},"encoding":{"text":{"field":"t"}},"layer":[
   {"mark":{"type":"text","angle":35,"font":"Liberation Sans","fontSize":10,"fill":"white","stroke":"white","strokeWidth":3}},
   {"mark":{"type":"text","angle":35,"font":"Liberation Sans","fontSize":10,"fill":"#333"}}]},
  {"data":{"name":"labCm40"},"encoding":{"text":{"field":"t"}},"layer":[
   {"mark":{"type":"text","angle":-40,"font":"Liberation Sans","fontSize":10,"fill":"white","stroke":"white","strokeWidth":3}},
   {"mark":{"type":"text","angle":-40,"font":"Liberation Sans","fontSize":10,"fill":"#333"}}]},
  {"data":{"name":"labC0"},"encoding":{"text":{"field":"t"}},"layer":[
   {"mark":{"type":"text","font":"Liberation Sans","fontSize":10,"fill":"white","stroke":"white","strokeWidth":3}},
   {"mark":{"type":"text","font":"Liberation Sans","fontSize":10,"fill":"#333"}}]},
  {"data":{"name":"tkBxM"},"mark":{"type":"tick","orient":"vertical","size":12,"thickness":2.5,"color":"black","opacity":1,"yOffset":-6}},
  {"data":{"name":"tkCxm"},"mark":{"type":"tick","orient":"vertical","size":7,"thickness":1.2,"color":"black","opacity":1,"yOffset":-3.5}},
  {"data":{"name":"tkCyM"},"mark":{"type":"tick","orient":"horizontal","size":12,"thickness":2.5,"color":"black","opacity":1,"xOffset":6}},
  {"data":{"name":"tkCym"},"mark":{"type":"tick","orient":"horizontal","size":6,"thickness":1.2,"color":"black","opacity":1,"xOffset":3}}
 ]
}
]
}
